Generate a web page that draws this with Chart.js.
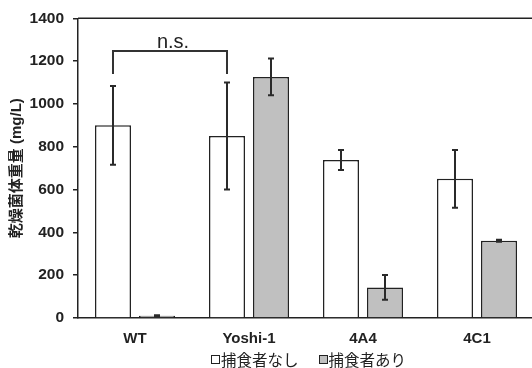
<!DOCTYPE html>
<html>
<head>
<meta charset="utf-8">
<script src="https://cdn.jsdelivr.net/npm/chart.js@4.4.1/dist/chart.umd.min.js"></script>
<style>
  html, body { margin: 0; padding: 0; background: #fff; overflow: hidden; }
  #wrap { position: relative; width: 532px; height: 368px; overflow: hidden; }
  #chart { position: absolute; left: 0; top: 0; }
  #legend {
    position: absolute; left: 211px; top: 350px;
    font: 15.5px "Noto Sans CJK JP", sans-serif; color: #222;
    display: flex; gap: 20px; line-height: 18px;
  }
  #legend span.item { display: inline-flex; align-items: center; }
  #legend i { display: inline-block; width: 7px; height: 7px; border: 1.2px solid #222; margin-right: 1px; }
</style>
</head>
<body>
<div id="wrap">
  <canvas id="chart" width="540" height="368"></canvas>
  <div id="legend"></div>
</div>
<script>
// ---------- data ----------
const categories   = ['WT', 'Yoshi-1', '4A4', '4C1'];
const seriesLabels = ['捕食者なし', '捕食者あり'];
const noPredator   = [900, 850, 738, 650];
const noPredErr    = [184, 250, 47, 135];
const withPredator = [10, 1126, 143, 361];
const withPredErr  = [3, 86, 58, 5];
const yTicks       = [0, 200, 400, 600, 800, 1000, 1200, 1400];
// n.s. bracket: between WT and Yoshi-1 (no predator bars)
const bracket = { from: 0, to: 1, y: 1247, drop: 1140, text: 'n.s.' };

const FONT = '"Liberation Sans", Arial, "Noto Sans CJK JP", sans-serif';
const fills = ['#ffffff', '#c0c0c0'];

// ---------- legend (html) ----------
const legendEl = document.getElementById('legend');
seriesLabels.forEach((lab, i) => {
    const s = document.createElement('span');
    s.className = 'item';
    s.innerHTML = '<i style="background:' + fills[i] + '"></i>' + lab;
    legendEl.appendChild(s);
});

// ---------- plugins ----------
const errorBars = {
    id: 'errorBars',
    afterDatasetsDraw(chart) {
        const c = chart.ctx;
        const y = chart.scales.y;
        const errs = [noPredErr, withPredErr];
        c.save();
        c.strokeStyle = '#2a2a2a';
        c.lineWidth = 2;
        chart.data.datasets.forEach((ds, di) => {
            const meta = chart.getDatasetMeta(di);
            meta.data.forEach((bar, i) => {
                const v = ds.data[i], e = errs[di][i];
                const x = bar.x;
                const yt = y.getPixelForValue(v + e);
                const yb = y.getPixelForValue(v - e);
                c.beginPath();
                c.moveTo(x, yt); c.lineTo(x, yb);
                c.moveTo(x - 3, yt); c.lineTo(x + 3, yt);
                c.moveTo(x - 3, yb); c.lineTo(x + 3, yb);
                c.stroke();
            });
        });
        c.restore();
    }
};

const bracketPlugin = {
    id: 'bracket',
    afterDraw(chart) {
        const c = chart.ctx;
        const y = chart.scales.y;
        const meta = chart.getDatasetMeta(0);
        const x1 = meta.data[bracket.from].x;
        const x2 = meta.data[bracket.to].x;
        const yh = y.getPixelForValue(bracket.y);
        const yd = y.getPixelForValue(bracket.drop);
        c.save();
        c.strokeStyle = '#333';
        c.lineWidth = 2;
        c.beginPath();
        c.moveTo(x1, yd); c.lineTo(x1, yh); c.lineTo(x2, yh); c.lineTo(x2, yd);
        c.stroke();
        c.fillStyle = '#222';
        c.font = '20px ' + FONT;
        c.textAlign = 'center';
        c.textBaseline = 'alphabetic';
        c.fillText(bracket.text, (x1 + x2) / 2 + 3, yh - 3);
        // top frame line
        const a = chart.chartArea;
        c.strokeStyle = '#222';
        c.lineWidth = 1.5;
        c.beginPath();
        c.moveTo(a.left, a.top); c.lineTo(a.right + 10, a.top);
        c.stroke();
        c.restore();
    }
};

// ---------- chart ----------
const ctx = document.getElementById('chart').getContext('2d');
new Chart(ctx, {
    type: 'bar',
    data: {
        labels: categories,
        datasets: [
            {
                label: seriesLabels[0],
                data: noPredator,
                backgroundColor: fills[0],
                borderColor: '#222',
                borderWidth: 1.5,
                categoryPercentage: 0.772,
                barPercentage: 0.818
            },
            {
                label: seriesLabels[1],
                data: withPredator,
                backgroundColor: fills[1],
                borderColor: '#222',
                borderWidth: 1.5,
                categoryPercentage: 0.772,
                barPercentage: 0.818
            }
        ]
    },
    options: {
        responsive: false,
        animation: false,
        layout: { padding: { top: 17, right: 6, left: 0, bottom: 0 } },
        plugins: {
            legend: { display: false },
            tooltip: { enabled: false }
        },
        scales: {
            x: {
                grid: { display: false, drawTicks: false },
                border: { color: '#222', width: 1.5 },
                ticks: { color: '#222', font: { family: FONT, size: 15, weight: 'bold' }, padding: 12 },
                afterFit(s) { s.height = 50; }
            },
            y: {
                min: 0, max: 1400,
                afterBuildTicks(s) { s.ticks = yTicks.map(v => ({ value: v })); },
                grid: { drawOnChartArea: false, drawTicks: true, tickLength: 5, color: '#222', lineWidth: 1.5 },
                border: { color: '#222', width: 1.5 },
                ticks: {
                    color: '#222',
                    font: { family: FONT, size: 15.5, weight: 'bold' },
                    padding: 9,
                    callback: v => String(v)
                },
                title: {
                    display: true,
                    text: '乾燥菌体重量 (mg/L)',
                    color: '#222',
                    font: { family: FONT, size: 15, weight: 'bold' },
                    padding: { top: 8, bottom: 2 }
                },
                afterFit(s) { s.width = 78; }
            }
        }
    },
    plugins: [errorBars, bracketPlugin]
});
</script>
</body>
</html>
